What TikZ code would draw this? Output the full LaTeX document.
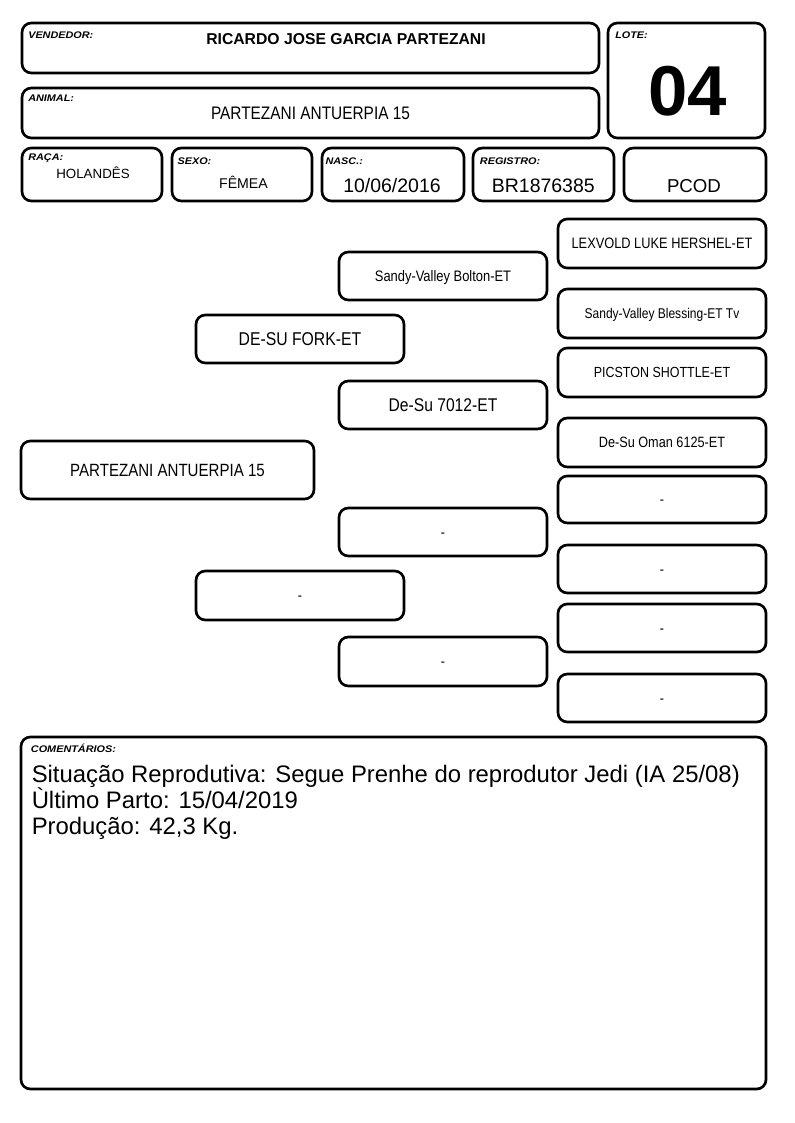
\documentclass[tikz,border=0pt]{standalone}
\usepackage{fontspec}
\setmainfont{Liberation Sans}
\newfontfamily\labfont[FakeStretch=1.13]{Liberation Sans}
\newfontfamily\narrowfont[FakeStretch=0.85]{Liberation Sans}
\usetikzlibrary{calc}
\newcommand\pbox[7]{\node[box, minimum width={(#4-#2)*0.75pt}, minimum height={(#5-#3)*0.75pt}, #6] (#1) at ({(#2+#4)/2},{(#3+#5)/2}) {#7};}
\tikzset{
  box/.style={draw, line width=2pt, rounded corners=7pt, inner sep=0pt, fill=white},
  lab/.style={anchor=base west, inner sep=0pt, font=\labfont\fontsize{7.2}{8}\selectfont\bfseries\itshape},
  val/.style={inner sep=0pt, text depth=0pt, text height={0.716*#1pt}, font=\fontsize{#1}{#1}\selectfont},
  ped/.style={text depth=0pt, text height={0.716*#1pt}, font=\narrowfont\fontsize{#1}{#1}\selectfont},
  comline/.style={anchor=base west, inner sep=0pt, font=\fontsize{17.9}{19.5}\selectfont},
}
\begin{document}
\begin{tikzpicture}[x=0.75pt,y=-0.75pt]
\useasboundingbox (0,0) rectangle (794,1123);
\fill[white] (0,0) rectangle (794,1123);
% header boxes
\pbox{vend}{22}{23}{599}{73}{}{}
\pbox{lote}{608}{23}{765}{138}{}{}
\pbox{anim}{22}{88}{599}{138}{}{}
\pbox{raca}{22}{148}{162}{201}{}{}
\pbox{sexo}{172}{148}{312}{201}{}{}
\pbox{nasc}{322}{148}{464}{201}{}{}
\pbox{reg}{473}{148}{614}{201}{}{}
\pbox{pcod}{624}{148}{766}{201}{}{}
% labels
\node[lab] (lvend) at (28,38.3) {VENDEDOR:};
\node[lab] (lanim) at (28,101.3) {ANIMAL:};
\node[lab] (llote) at (615,38.7) {LOTE:};
\node[lab] (lraca) at (28,161) {RAÇA:};
\node[lab] (lsexo) at (177.3,164.5) {SEXO:};
\node[lab] (lnasc) at (325.3,164.3) {NASC.:};
\node[lab] (lreg) at (479.7,164.3) {REGISTRO:};
% values
\node[val=11.8, font=\fontsize{11.8}{11.8}\selectfont\bfseries] (vvend) at (346,38.5) {RICARDO JOSE GARCIA PARTEZANI};
\node[inner sep=0pt, text depth=0pt, text height={0.716*13.6pt}, font=\narrowfont\fontsize{13.6}{13.6}\selectfont] (vanim) at (310.5,113) {PARTEZANI ANTUERPIA 15};
\node[val=53, font=\fontsize{53}{53}\selectfont\bfseries] (vlote) at (687.5,90.3) {04};
\node[val=10] (vraca) at (93,173.7) {HOLANDÊS};
\node[val=10.6] (vsexo) at (243.5,183.5) {FÊMEA};
\node[val=14.6] (vnasc) at (392,185.3) {10/06/2016};
\node[val=14.6] (vreg) at (543.3,185.3) {BR1876385};
\node[val=14] (vpcod) at (694,186) {PCOD};
% pedigree
\pbox{p0}{21}{441}{314}{499}{ped=13.3}{PARTEZANI ANTUERPIA 15}
\pbox{p1}{196}{315}{404}{363}{ped=13.9}{DE-SU FORK-ET}
\pbox{p2}{196}{571}{404}{620}{ped=11}{-}
\pbox{p11}{339}{252}{547}{300}{ped=11.4}{Sandy-Valley Bolton-ET}
\pbox{p12}{339}{381}{547}{429}{ped=13.8}{De-Su 7012-ET}
\pbox{p21}{339}{508}{547}{556}{ped=11}{-}
\pbox{p22}{339}{637}{547}{686}{ped=11}{-}
\pbox{p111}{558}{219}{766}{268}{ped=11.3}{LEXVOLD LUKE HERSHEL-ET}
\pbox{p112}{558}{289}{766}{338}{ped=10.6}{Sandy-Valley Blessing-ET Tv}
\pbox{p121}{558}{348}{766}{397}{ped=11}{PICSTON SHOTTLE-ET}
\pbox{p122}{558}{418}{766}{467}{ped=11.2}{De-Su Oman 6125-ET}
\pbox{p211}{558}{476}{766}{523}{ped=11}{-}
\pbox{p212}{558}{545}{766}{593}{ped=11}{-}
\pbox{p221}{558}{604}{766}{652}{ped=11}{-}
\pbox{p222}{558}{674}{766}{722}{ped=11}{-}
% comments
\pbox{com}{21}{737}{766}{1089}{}{}
\node[lab] (lcom) at (30.7,752.3) {COMENTÁRIOS:};
\node[comline] (tcom1) at (31.5,782) {Situação Reprodutiva: Segue Prenhe do reprodutor Jedi (IA 25/08)};
\node[comline] (tcom2) at (31.5,808) {Ùltimo Parto: 15/04/2019};
\node[comline] (tcom3) at (31.5,834) {Produção: 42,3 Kg.};
\end{tikzpicture}
\end{document}
